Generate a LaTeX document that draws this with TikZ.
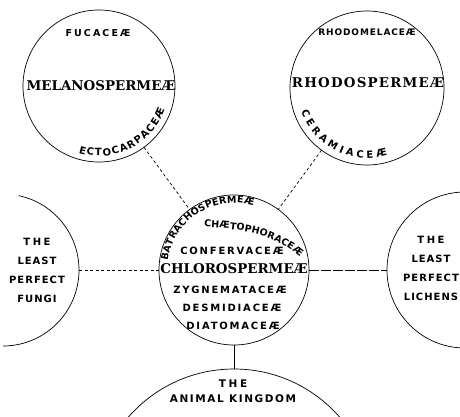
\documentclass[tikz,border=0pt]{standalone}
\usepackage{fontspec}
\newfontfamily\titlefont{DejaVu Serif}
\newfontfamily\titlewide{DejaVu Serif}[LetterSpace=9]
\newfontfamily\lblfont{DejaVu Sans}[LetterSpace=10]
\newfontfamily\lblwide{DejaVu Sans}[LetterSpace=18]
\newfontfamily\arcfont{DejaVu Sans}
\usetikzlibrary{decorations.text}

\tikzset{
  group/.style={circle, draw, line width=0.7pt, inner sep=0pt, outer sep=0pt, minimum size=#1},
  rim/.style={line width=0.7pt},
  grouptitle/.style={font=\titlefont\bfseries\fontsize{13.4}{16}\selectfont, inner sep=0pt},
  famlabel/.style={font=\lblfont\bfseries\fontsize{9}{11}\selectfont, inner sep=0pt},
  memberlabel/.style={font=\lblwide\bfseries\fontsize{10}{12}\selectfont, inner sep=0pt},
  kinglabel/.style={font=\lblfont\bfseries\fontsize{10}{19}\selectfont, align=center, inner sep=0pt},
  linkline/.style={line width=0.7pt, dash pattern=on 3pt off 2.5pt},
  arclabel/.style={decorate, decoration={text along path, text align={fit to path},
    text={|\arcfont\bfseries\fontsize{10}{12}\selectfont|#1}}},
  arclabelsmall/.style={decorate, decoration={text along path, text align={fit to path},
    text={|\arcfont\bfseries\fontsize{9.5}{11}\selectfont|#1}}},
}

\begin{document}
\begin{tikzpicture}[x=1pt, y=1pt]
\useasboundingbox (0,0) rectangle (460,416);

% the six groups
\node[group=152pt] (melano) at (99,330) {};
\node[group=154pt] (rhodo) at (367,328) {};
\node[group=150pt] (chloro) at (234,146) {};
\node[group=152pt, draw=none] (fungi) at (3,146) {};
\node[group=156pt] (lichen) at (465,146) {};
\node[group=280pt] (animal) at (234,-93) {};
\draw[rim] (fungi.78) arc[start angle=78, end angle=-90, radius=76pt];

% links
\draw[linkline] (melano) -- (chloro);
\draw[linkline] (rhodo) -- (chloro);
\draw[linkline] (fungi) -- (chloro);
\draw[rim, dash pattern=on 10pt off 2pt] (chloro) -- (lichen);
\draw[rim] (chloro) -- (animal);

% olive weeds
\node[famlabel, font=\lblfont\bfseries\fontsize{9.5}{11}\selectfont\addfontfeature{LetterSpace=22}] (fucaceae) at (98,383) {FUCACEÆ};
\node[grouptitle] (melanoname) at (101,330) {MELANOSPERMEÆ};
\path[arclabel=ECTOCARPACEÆ] ([shift={(-107:70pt)}]melano.center)
  arc[start angle=-107, end angle=-20, radius=70pt];

% red weeds
\node[famlabel] (rhodomelaceae) at (367,384) {RHODOMELACEÆ};
\node[grouptitle, font=\titlewide\bfseries\fontsize{13.4}{16}\selectfont] (rhodoname) at (368,333) {RHODOSPERMEÆ};
\path[arclabel=CERAMIACEÆ] ([shift={(200:70pt)}]rhodo.center)
  arc[start angle=200, end angle=287, radius=70pt];

% green weeds
\path[arclabelsmall=BATRACHOSPERMEÆ] ([shift={(172:67pt)}]chloro.center)
  arc[start angle=172, end angle=73, radius=67pt];
\path[arclabelsmall=CHÆTOPHORACEÆ] (204,189) .. controls (245,187) and (275,181) .. (300,159);
\node[memberlabel] (confervaceae) at (232,165) {CONFERVACEÆ};
\node[grouptitle] (chloroname) at (234,147) {CHLOROSPERMEÆ};
\node[memberlabel] (zygnemataceae) at (230,126) {ZYGNEMATACEÆ};
\node[memberlabel] (desmidiaceae) at (232,108) {DESMIDIACEÆ};
\node[memberlabel] (diatomaceae) at (233,90) {DIATOMACEÆ};

% neighbours
\node[kinglabel] (fungitext) at (37,145.5) {{\addfontfeature{LetterSpace=25}THE}\\LEAST\\PERFECT\\FUNGI};
\node[kinglabel] (lichentext) at (431,147.5) {{\addfontfeature{LetterSpace=25}THE}\\LEAST\\PERFECT\\LICHENS};
\node[kinglabel, font=\lblfont\bfseries\fontsize{10.5}{15}\selectfont] (animaltext) at (233,24.5)
  {{\addfontfeature{LetterSpace=25}THE}\\{\addfontfeature{LetterSpace=15}ANIMAL KINGDOM}};

\end{tikzpicture}
\end{document}
